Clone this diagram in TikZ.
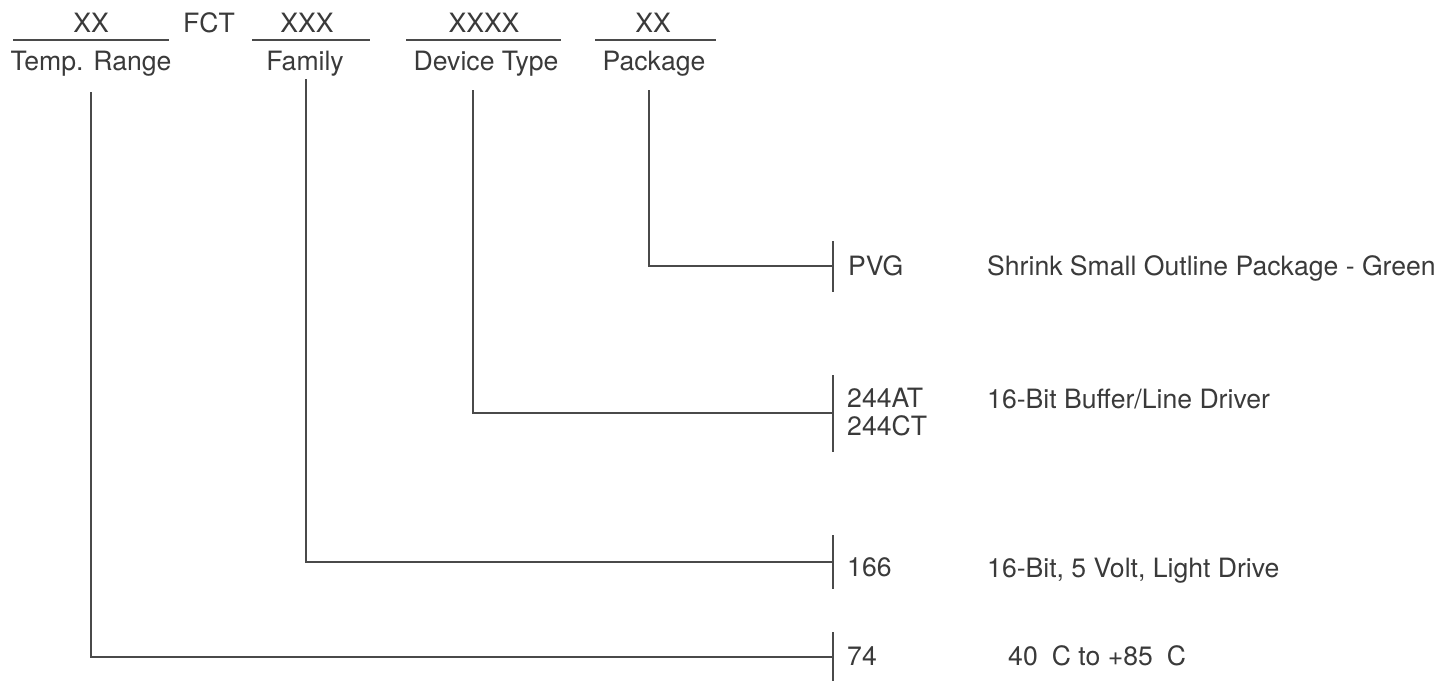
\documentclass[tikz,border=0pt]{standalone}
\usepackage{fontspec}
\setmainfont{TeX Gyre Heros}
\definecolor{txt}{HTML}{3A3A3A}
\definecolor{ln}{HTML}{4A4A4A}
\begin{document}
\begin{tikzpicture}[x=1pt,y=-1pt,
  lbl/.style={inner sep=0pt, text=txt, font=\fontsize{26.6}{31}\selectfont},
  wire/.style={draw=ln, line width=1.4pt}]
\useasboundingbox (0,0) rectangle (1439,681);
% header fields
\node[lbl, anchor=base] (xx1) at (91,32.5) {XX};
\node[lbl, anchor=base west] (fct) at (183,32.5) {FCT};
\node[lbl, anchor=base] (xxx) at (307,32.5) {XXX};
\node[lbl, anchor=base] (xxxx) at (484,32.5) {XXXX};
\node[lbl, anchor=base] (xx2) at (653,32.5) {XX};
\node[lbl, anchor=base] (temp) at (91,70) {Temp. Range};
\node[lbl, anchor=base] (fam) at (305,70) {Family};
\node[lbl, anchor=base] (dev) at (486,70) {Device Type};
\node[lbl, anchor=base] (pkg) at (654,70) {Package};
% rules under the fields
\coordinate (r1a) at (13,40);  \coordinate (r1b) at (169,40);
\coordinate (r2a) at (252,40); \coordinate (r2b) at (370,40);
\coordinate (r3a) at (406,40); \coordinate (r3b) at (561,40);
\coordinate (r4a) at (595,40); \coordinate (r4b) at (716,40);
\draw[wire] (r1a) -- (r1b);
\draw[wire] (r2a) -- (r2b);
\draw[wire] (r3a) -- (r3b);
\draw[wire] (r4a) -- (r4b);
% connector start points
\coordinate (cTemp) at (91,92);
\coordinate (cFam) at (306,79);
\coordinate (cDev) at (473,90);
\coordinate (cPkg) at (649,90);
% connector end points at the ticks
\coordinate (ePkg) at (833,266);
\coordinate (eDev) at (833,413);
\coordinate (eFam) at (833,562);
\coordinate (eTemp) at (833,657);
\draw[wire] (cTemp) |- (eTemp);
\draw[wire] (cFam) |- (eFam);
\draw[wire] (cDev) |- (eDev);
\draw[wire] (cPkg) |- (ePkg);
% ticks
\coordinate (k1a) at (833,241); \coordinate (k1b) at (833,292);
\coordinate (k2a) at (833,375); \coordinate (k2b) at (833,452);
\coordinate (k3a) at (833,535); \coordinate (k3b) at (833,589);
\coordinate (k4a) at (833,632); \coordinate (k4b) at (833,681);
\draw[wire] (k1a) -- (k1b);
\draw[wire] (k2a) -- (k2b);
\draw[wire] (k3a) -- (k3b);
\draw[wire] (k4a) -- (k4b);
% codes
\node[lbl, anchor=base west] (pvg) at (848,275) {PVG};
\node[lbl, anchor=base west] (at) at (847,407) {244AT};
\node[lbl, anchor=base west] (ct) at (847,435) {244CT};
\node[lbl, anchor=base west] (n166) at (847,576) {166};
\node[lbl, anchor=base west] (n74) at (847,665) {74};
% descriptions
\node[lbl, anchor=base west] (dpkg) at (987,275) {Shrink Small Outline Package - Green};
\node[lbl, anchor=base west] (ddev) at (987,408) {16-Bit Buffer/Line Driver};
\node[lbl, anchor=base west] (dfam) at (987,577) {16-Bit, 5 Volt, Light Drive};
\node[lbl, anchor=base west] (dtemp) at (1008,665) {40\hspace{0.25em} C to +85\hspace{0.25em} C};
\end{tikzpicture}
\end{document}
